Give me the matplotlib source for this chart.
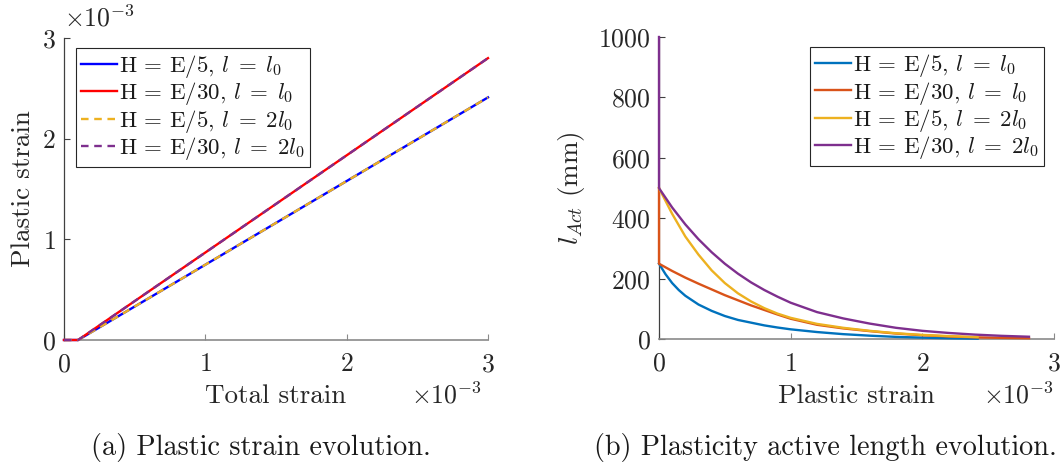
import matplotlib
matplotlib.use("Agg")
import matplotlib.pyplot as plt

plt.rcParams["font.family"] = "cmr10"
plt.rcParams["mathtext.fontset"] = "cm"
plt.rcParams["axes.unicode_minus"] = False
plt.rcParams["axes.formatter.use_mathtext"] = True

# ---- (a) plastic strain vs total strain (both in units of 1e-3) ----
total_strain = [0.0, 0.1, 3.0]
eps_p_E5 = [0.0, 0.0, 2.41]
eps_p_E30 = [0.0, 0.0, 2.80]

# ---- (b) active length (mm) vs plastic strain (units of 1e-3) ----
x_E5_l0 = [0.0, 0.05, 0.1, 0.15, 0.2, 0.3, 0.4, 0.5, 0.6, 0.7, 0.8, 0.9, 1.0,
           1.2, 1.4, 1.6, 1.8, 2.0, 2.2, 2.42]
l_E5_l0 = [250, 215, 186, 163, 144, 115, 94, 77, 64, 55, 46, 39, 33,
           24, 17, 12, 8, 5.5, 3.5, 2]

x_E30_l0 = [0.0, 0.0, 0.1, 0.2, 0.3, 0.4, 0.5, 0.6, 0.7, 0.8, 0.9, 1.0,
            1.2, 1.4, 1.6, 1.8, 2.0, 2.2, 2.4, 2.6, 2.81]
l_E30_l0 = [500, 250, 226, 204, 184, 165, 146, 129, 112, 97, 82, 68,
            48, 36, 27, 19, 13.5, 9.5, 6.5, 4.8, 3.5]

x_E5_2l0 = [0.0, 0.1, 0.2, 0.3, 0.4, 0.5, 0.6, 0.7, 0.8, 0.9, 1.0,
            1.2, 1.4, 1.6, 1.8, 2.0, 2.2, 2.42]
l_E5_2l0 = [500, 415, 340, 280, 228, 186, 152, 125, 103, 85, 71,
            51, 38, 28, 20, 14.5, 10.5, 7]

x_E30_2l0 = [0.0, 0.0, 0.1, 0.2, 0.3, 0.4, 0.5, 0.6, 0.7, 0.8, 0.9, 1.0,
             1.2, 1.4, 1.6, 1.8, 2.0, 2.2, 2.4, 2.6, 2.81]
l_E30_2l0 = [1000, 500, 436, 380, 331, 288, 250, 217, 188, 163, 141, 121,
             90, 69, 52, 38, 28, 21, 15.5, 11.5, 8.5]

labels = [r"H = E/5, $l\;=\;l_0$",
          r"H = E/30, $l\;=\;l_0$",
          r"H = E/5, $l\;=\;2l_0$",
          r"H = E/30, $l\;=\;2l_0$"]

c_blue, c_red = "#0072BD", "#D95319"
c_yel, c_pur = "#EDB120", "#7E2F8E"

TFS = 18.5   # tick labels
LFS = 19.5   # axis labels
GFS = 16.5   # legend
CFS = 20.3   # captions
LW = 1.7
DASH = (0, (3.2, 2.4))

fig = plt.figure(figsize=(10.6, 4.68), dpi=100)


def style(ax):
    ax.spines["top"].set_visible(False)
    ax.spines["right"].set_visible(False)
    ax.spines["left"].set_color("#404040")
    ax.spines["bottom"].set_color("#8a8a8a")
    ax.spines["left"].set_linewidth(0.9)
    ax.spines["bottom"].set_linewidth(1.2)
    ax.tick_params(direction="in", length=4, width=0.8, colors="#404040",
                   labelsize=TFS, labelcolor="#262626")
    ax.tick_params(axis="x", colors="#8a8a8a", labelcolor="#262626", pad=9)
    ax.tick_params(axis="y", pad=6)


def legend(ax, loc, anchor):
    leg = ax.legend(loc=loc, bbox_to_anchor=anchor, fontsize=GFS,
                    frameon=True, fancybox=False, handlelength=1.55,
                    handletextpad=0.12, borderpad=0.22, labelspacing=0.02,
                    borderaxespad=0.0, framealpha=1.0)
    leg.get_frame().set_edgecolor("#262626")
    leg.get_frame().set_linewidth(0.8)
    for t in leg.get_texts():
        t.set_color("#1a1a1a")
    return leg


# ---- left panel ----
ax1 = fig.add_axes([64 / 1060, 128 / 468, 424 / 1060, 302 / 468])
kw = dict(lw=LW, clip_on=False, zorder=3)
ax1.plot(total_strain, eps_p_E5, color="#0000FF", label=labels[0], **kw)
ax1.plot(total_strain, eps_p_E30, color="#FF0000", label=labels[1], **kw)
ax1.plot(total_strain, eps_p_E5, color=c_yel, ls=DASH, label=labels[2], **kw)
ax1.plot(total_strain, eps_p_E30, color=c_pur, ls=DASH, label=labels[3], **kw)
ax1.set_xlim(0, 3)
ax1.set_ylim(0, 3)
ax1.set_xticks([0, 1, 2, 3])
ax1.set_yticks([0, 1, 2, 3])
style(ax1)
ax1.set_xlabel("Total strain", fontsize=LFS, color="#262626", labelpad=6)
ax1.set_ylabel("Plastic strain", fontsize=LFS, color="#262626", labelpad=5)
ax1.text(0.0, 1.02, r"$\times10^{-3}$", transform=ax1.transAxes,
         fontsize=TFS, color="#262626", ha="left", va="bottom")
ax1.text(0.985, -0.14, r"$\times10^{-3}$", transform=ax1.transAxes,
         fontsize=TFS, color="#262626", ha="right", va="top")
legend(ax1, "upper left", (12 / 424, 1 - 10 / 302))

# ---- right panel ----
ax2 = fig.add_axes([659 / 1060, 128.7 / 468, 395 / 1060, 302.3 / 468])
ax2.plot(x_E5_l0, l_E5_l0, color=c_blue, label=labels[0], **kw)
ax2.plot(x_E30_l0, l_E30_l0, color=c_red, label=labels[1], **kw)
ax2.plot(x_E5_2l0, l_E5_2l0, color=c_yel, label=labels[2], **kw)
ax2.plot(x_E30_2l0, l_E30_2l0, color=c_pur, label=labels[3], **kw)
ax2.set_xlim(0, 3)
ax2.set_ylim(0, 1000)
ax2.set_xticks([0, 1, 2, 3])
ax2.set_yticks([0, 200, 400, 600, 800, 1000])
style(ax2)
ax2.set_xlabel("Plastic strain", fontsize=LFS, color="#262626", labelpad=6)
ax2.set_ylabel(r"$l_{Act}$ (mm)", fontsize=LFS, color="#262626", labelpad=8)
ax2.text(1.0, -0.14, r"$\times10^{-3}$", transform=ax2.transAxes,
         fontsize=TFS, color="#262626", ha="right", va="top")
legend(ax2, "upper right", (1 - 10 / 395, 1 - 10 / 302))

# ---- captions ----
fig.text(261 / 1060, 1 - 447 / 468, "(a) Plastic strain evolution.",
         fontsize=CFS, color="#1a1a1a", ha="center", va="center")
fig.text(1057 / 1060, 1 - 447 / 468, "(b) Plasticity active length evolution.",
         fontsize=CFS, color="#1a1a1a", ha="right", va="center")

fig.savefig("out.png", dpi=100, facecolor="white")
